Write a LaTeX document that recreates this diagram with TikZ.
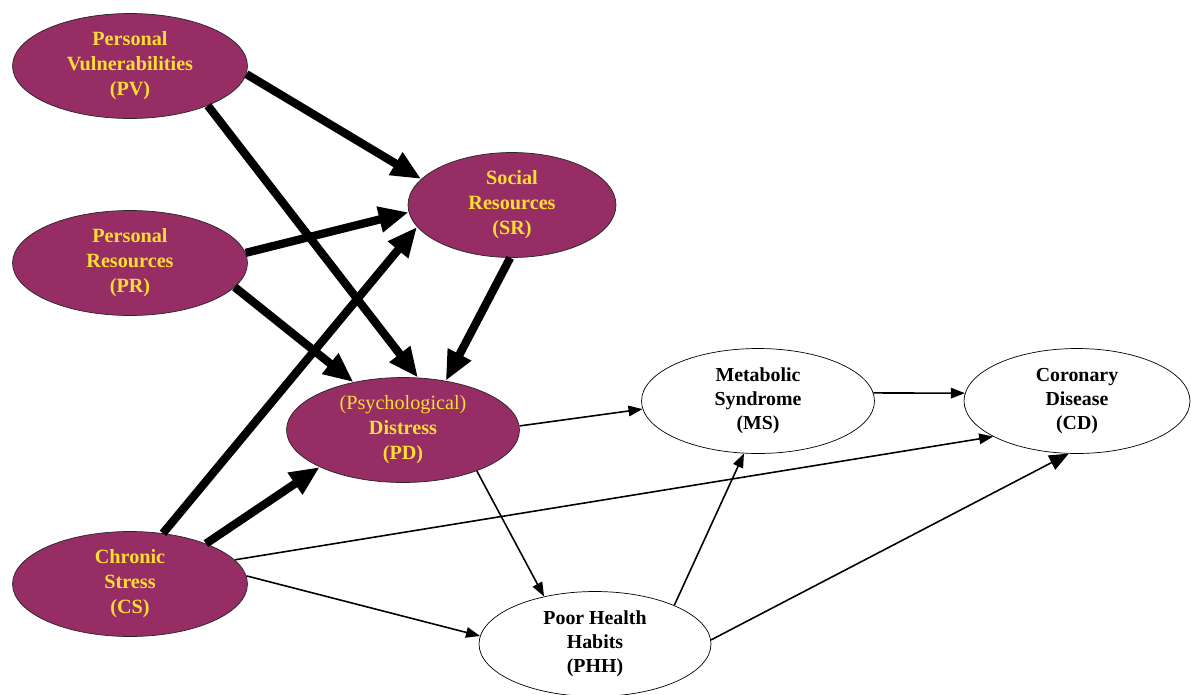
\documentclass[tikz,border=0pt]{standalone}
\usepackage{fontspec}
\setmainfont{Liberation Serif}
\usetikzlibrary{shapes.geometric,arrows.meta}
\definecolor{plum}{RGB}{150,45,100}
\definecolor{gold}{RGB}{255,221,51}

\begin{document}
\begin{tikzpicture}[x=0.02cm, y=-0.02cm,
    factor/.style={ellipse, draw=black!85, fill=plum, text=gold, align=center,
        font=\fontsize{11.5}{14.2}\selectfont\bfseries, inner sep=0pt,
        minimum width=4.7cm, minimum height=2.1cm},
    outcome/.style={ellipse, draw=black, fill=white, align=center,
        font=\fontsize{11.3}{13.6}\selectfont\bfseries, inner sep=0pt,
        minimum width=4.66cm, minimum height=2.1cm},
    strong/.style={line width=4.7pt, -{Triangle[length=17pt,width=14pt]}},
    weak/.style={line width=0.9pt, -{Triangle[length=8pt,width=6pt]}}]

    \useasboundingbox (0,0) rectangle (1191,694);

    % Factors on the left
    \node[factor] (pv) at (130,66) {Personal\\Vulnerabilities\\(PV)};
    \node[factor] (pr) at (130,263) {Personal\\Resources\\(PR)};
    \node[factor] (cs) at (130,584) {Chronic\\Stress\\(CS)};

    \node[factor, minimum width=4.16cm] (sr) at (512,205) {Social\\Resources\\(SR)};
    \node[factor, minimum width=4.66cm] (pd) at (403,430) {{\mdseries (Psychological)}\\Distress\\(PD)};

    % Outcomes
    \node[outcome] (ms) at (758,401) {Metabolic\\Syndrome\\(MS)};
    \node[outcome, minimum width=4.52cm] (cd) at (1077,401) {Coronary\\Disease\\(CD)};
    \node[outcome, minimum width=4.64cm] (phh) at (595,644) {Poor Health\\Habits\\(PHH)};



    \draw[strong] (pv.-4) -- (sr.164);
    \draw[strong] (pv.-27) -- (pd.74);
    \draw[strong] (pr.5) -- (sr.184);
    \draw[strong] (pr.-13) -- (pd.136);
    \draw[strong] (cs.57) -- (sr.193);
    \draw[strong] (cs.28) -- (pd.204);
    \draw[strong] (sr.-92) -- (pd.49);


    \draw[weak] (pd.2) -- (ms.184);
    \draw[weak] (ms.4) -- (cd.176);
    \draw[weak] (cs.13) -- (cd.203);
    \draw[weak] (cs.4) -- (phh.176);
    \draw[weak] (pd.-29) -- (phh.137);
    \draw[weak] (phh.26) -- (ms.255);
    \draw[weak, -{Triangle[length=11pt,width=9pt]}] (phh.2) -- (cd.261);

\end{tikzpicture}
\end{document}
